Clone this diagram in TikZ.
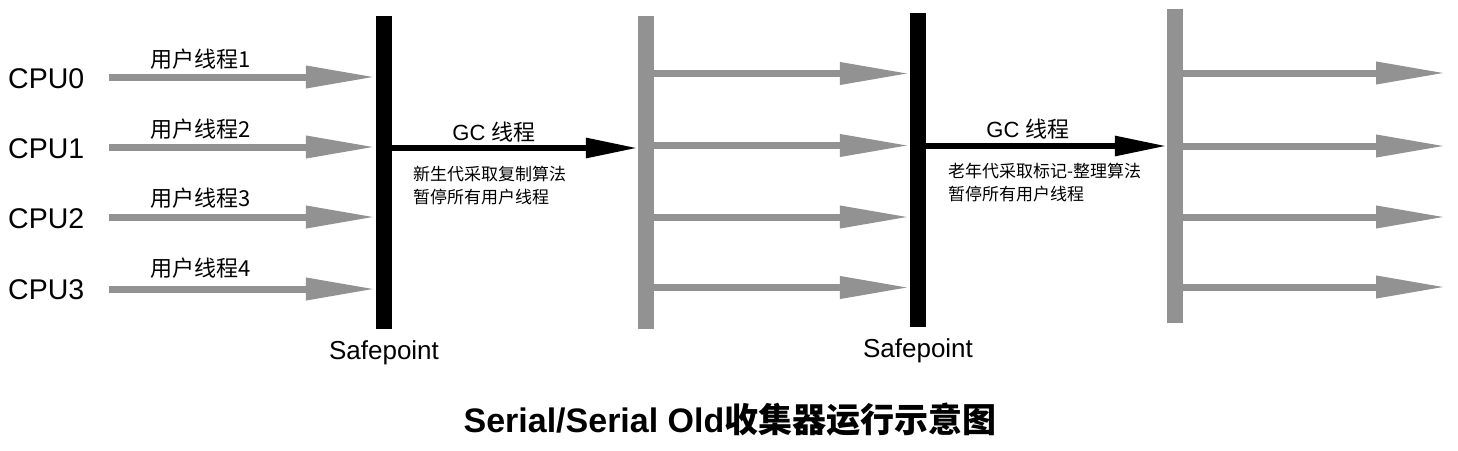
\documentclass[tikz,border=0pt]{standalone}
\usepackage{fontspec}
\setmainfont{Liberation Sans}
\newfontfamily\cjk{Noto Sans CJK SC}
\usetikzlibrary{arrows.meta}
\definecolor{bargray}{RGB}{146,146,146}
\begin{document}
\begin{tikzpicture}[x=1pt,y=-1pt,
  blackbar/.style={fill=black, draw=none, inner sep=0pt, minimum width=16pt},
  graybar/.style={fill=bargray, draw=none, inner sep=0pt, minimum width=16pt},
  thread/.style={draw=bargray, line width=7pt, -{Triangle[length=70pt,width=21pt,fill=bargray]}},
  gcarrow/.style={draw=black, line width=6pt, -{Triangle[length=52pt,width=19pt]}},
  cpu/.style={font=\fontsize{28.5}{30}\selectfont, anchor=west, inner sep=0pt},
  tlabel/.style={font=\fontsize{22}{24}\selectfont\cjk, inner sep=0pt},
  gclabel/.style={font=\fontsize{22}{24}\selectfont, inner sep=0pt},
  note/.style={font=\fontsize{17}{23}\selectfont\cjk, align=left, anchor=north west, inner sep=0pt},
  safe/.style={font=\fontsize{26}{30}\selectfont, inner sep=0pt},
  title/.style={font=\fontsize{34}{38}\selectfont\bfseries, inner sep=0pt}
]
\useasboundingbox (0,0) rectangle (1458,450);
% bars
\node[blackbar, minimum height=313pt] (bar1) at (384,172.5) {};
\node[graybar,  minimum height=313pt] (bar2) at (646,172.5) {};
\node[blackbar, minimum height=314pt] (bar3) at (918,170) {};
\node[graybar,  minimum height=314pt] (bar4) at (1175,166) {};
% CPU labels
\node[cpu] (cpu0) at (8,79) {CPU0};
\node[cpu] (cpu1) at (8,149) {CPU1};
\node[cpu] (cpu2) at (8,219) {CPU2};
\node[cpu] (cpu3) at (8,290) {CPU3};
% start points of user threads
\coordinate (s0) at (109,77);
\coordinate (s1) at (109,147);
\coordinate (s2) at (109,217);
\coordinate (s3) at (109,289);
\draw[thread] (s0) -- (s0 -| bar1.west);
\draw[thread] (s1) -- (s1 -| bar1.west);
\draw[thread] (s2) -- (s2 -| bar1.west);
\draw[thread] (s3) -- (s3 -| bar1.west);
\node[tlabel] (t1) at (201,59) {用户线程1};
\node[tlabel] (t2) at (201,129) {用户线程2};
\node[tlabel] (t3) at (201,198) {用户线程3};
\node[tlabel] (t4) at (201,268) {用户线程4};
% GC thread 1
\coordinate (g1) at (0,148);
\draw[gcarrow] (bar1.east |- g1) -- (bar2.west |- g1);
\node[gclabel] (gc1) at (494,132) {GC {\cjk 线程}};
\node[note] (n1) at (413,166) {新生代采取复制算法\\暂停所有用户线程};
% rows after bar2
\coordinate (r0) at (0,73.5);
\coordinate (r1) at (0,145.5);
\coordinate (r2) at (0,217);
\coordinate (r3) at (0,287.5);
\draw[thread] (bar2.east |- r0) -- (bar3.west |- r0);
\draw[thread] (bar2.east |- r1) -- (bar3.west |- r1);
\draw[thread] (bar2.east |- r2) -- (bar3.west |- r2);
\draw[thread] (bar2.east |- r3) -- (bar3.west |- r3);
% GC thread 2
\coordinate (g2) at (0,146);
\draw[gcarrow] (bar3.east |- g2) -- (bar4.west |- g2);
\node[gclabel] (gc2) at (1028,129) {GC {\cjk 线程}};
\node[note] (n2) at (948,163) {老年代采取标记-整理算法\\暂停所有用户线程};
% rows after bar4
\coordinate (q0) at (0,73);
\coordinate (q1) at (0,146);
\coordinate (q2) at (0,217);
\coordinate (q3) at (0,287);
\coordinate (e0) at (1446,73);
\coordinate (e1) at (1446,146);
\coordinate (e2) at (1446,217);
\coordinate (e3) at (1446,287);
\draw[thread] (bar4.east |- q0) -- (e0);
\draw[thread] (bar4.east |- q1) -- (e1);
\draw[thread] (bar4.east |- q2) -- (e2);
\draw[thread] (bar4.east |- q3) -- (e3);
% safepoint labels
\node[safe] (sp1) at (384,353) {Safepoint};
\node[safe] (sp2) at (918,351) {Safepoint};
% title
\node[title] (ttl) at (730,420) {Serial/Serial Old{\cjk 收集器运行示意图}};
\end{tikzpicture}
\end{document}
